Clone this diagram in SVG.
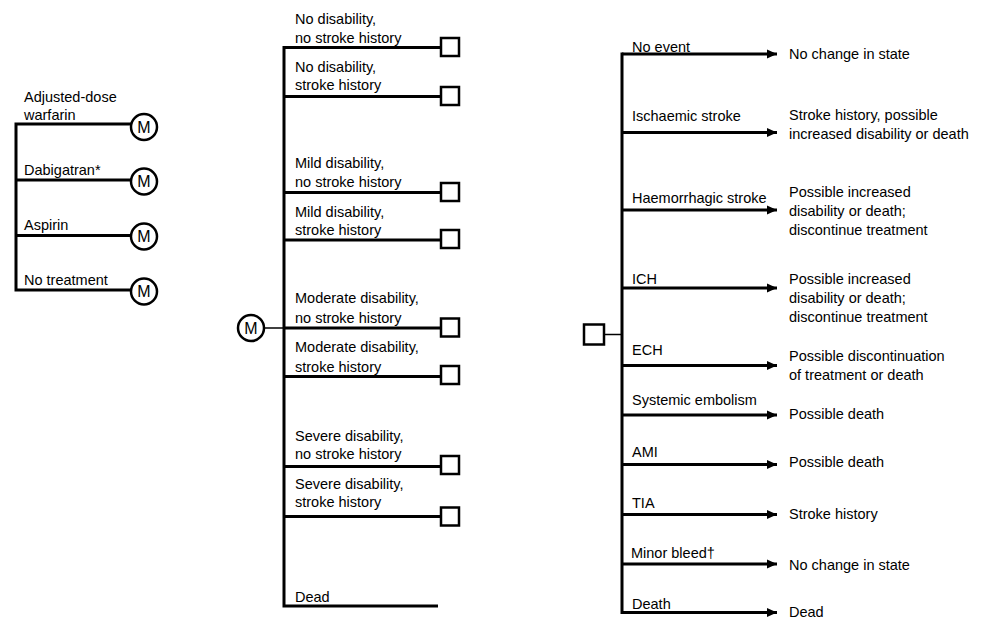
<svg xmlns="http://www.w3.org/2000/svg" width="982" height="619" viewBox="0 0 982 619">
<defs>
<style>
text{font-family:"Liberation Sans",Arial,sans-serif;font-size:14.5px;fill:#000}
.thick{stroke:#000;stroke-width:3;fill:none}
.thin{stroke:#000;stroke-width:1.5;fill:none}
.node{stroke:#000;stroke-width:2.5;fill:#fff}
.arr{stroke:#000;stroke-width:3;fill:none;marker-end:url(#ah)}
.m{font-size:16px;text-anchor:middle}
</style>
<marker id="ah" markerUnits="userSpaceOnUse" markerWidth="12" markerHeight="10" refX="10" refY="5" orient="auto">
<path d="M0,0.5 L10,5 L0,9.5 Z" fill="#000"/>
</marker>
</defs>
<rect width="982" height="619" fill="#fff"/>

<g id="connectors">
<!-- left tree -->
<path class="thick" d="M16,122.5 V291.5 M16,124 H131 M16,180 H131 M16,235.5 H131 M16,290 H131"/>
<!-- middle tree -->
<line class="thin" x1="265" y1="328" x2="284" y2="328"/>
<path class="thick" d="M284,46 V607.5 M284,47.5 H441 M284,96.5 H441 M284,192.5 H441 M284,240 H441 M284,328 H441 M284,376.5 H441 M284,466.5 H441 M284,516.5 H441 M284,606 H438"/>
<!-- right tree -->
<line class="thin" x1="604" y1="334.5" x2="622" y2="334.5"/>
<path class="thick" d="M622,52.5 V614"/>
<line class="arr" x1="622" y1="54" x2="777" y2="54"/>
<line class="arr" x1="622" y1="132.5" x2="777" y2="132.5"/>
<line class="arr" x1="622" y1="210" x2="777" y2="210"/>
<line class="arr" x1="622" y1="288" x2="777" y2="288"/>
<line class="arr" x1="622" y1="365.5" x2="777" y2="365.5"/>
<line class="arr" x1="622" y1="415" x2="777" y2="415"/>
<line class="arr" x1="622" y1="464.5" x2="777" y2="464.5"/>
<line class="arr" x1="622" y1="514.5" x2="777" y2="514.5"/>
<line class="arr" x1="622" y1="564" x2="777" y2="564"/>
<line class="arr" x1="622" y1="612.5" x2="777" y2="612.5"/>
</g>

<!-- left tree nodes -->
<g id="opt-warfarin">
<text x="24" y="102">Adjusted-dose</text>
<text x="24" y="120">warfarin</text>
<circle class="node" cx="144" cy="127" r="13"/><text class="m" x="144" y="132.5">M</text>
</g>
<g id="opt-dabigatran">
<text x="24" y="175">Dabigatran*</text>
<circle class="node" cx="144" cy="181.5" r="13"/><text class="m" x="144" y="187">M</text>
</g>
<g id="opt-aspirin">
<text x="24" y="230">Aspirin</text>
<circle class="node" cx="144" cy="236.5" r="13"/><text class="m" x="144" y="242">M</text>
</g>
<g id="opt-none">
<text x="24" y="285">No treatment</text>
<circle class="node" cx="144" cy="291.5" r="13"/><text class="m" x="144" y="297">M</text>
</g>

<!-- middle tree -->
<g id="markov-node">
<circle class="node" cx="251" cy="328" r="13"/><text class="m" x="251" y="333.5">M</text>
</g>
<g id="s1"><text x="295" y="24">No disability,</text><text x="295" y="43">no stroke history</text><rect class="node" x="441" y="38" width="18" height="18"/></g>
<g id="s2"><text x="295" y="72">No disability,</text><text x="295" y="90">stroke history</text><rect class="node" x="441" y="87" width="18" height="18"/></g>
<g id="s3"><text x="295" y="168">Mild disability,</text><text x="295" y="187">no stroke history</text><rect class="node" x="441" y="183" width="18" height="18"/></g>
<g id="s4"><text x="295" y="217">Mild disability,</text><text x="295" y="235">stroke history</text><rect class="node" x="441" y="230" width="18" height="18"/></g>
<g id="s5"><text x="295" y="303">Moderate disability,</text><text x="295" y="322.5">no stroke history</text><rect class="node" x="441" y="318.5" width="18" height="18"/></g>
<g id="s6"><text x="295" y="352">Moderate disability,</text><text x="295" y="371.5">stroke history</text><rect class="node" x="441" y="366" width="18" height="18"/></g>
<g id="s7"><text x="295" y="441">Severe disability,</text><text x="295" y="459">no stroke history</text><rect class="node" x="441" y="456" width="18" height="18"/></g>
<g id="s8"><text x="295" y="488.5">Severe disability,</text><text x="295" y="507">stroke history</text><rect class="node" x="441" y="507.5" width="18" height="18"/></g>
<g id="s9"><text x="295" y="602">Dead</text></g>

<!-- right tree -->
<g id="decision-node"><rect class="node" x="584" y="324.5" width="20" height="20"/></g>
<g id="e1"><text x="632" y="52">No event</text><text x="789" y="59">No change in state</text></g>
<g id="e2"><text x="632" y="121">Ischaemic stroke</text><text x="789" y="120">Stroke history, possible</text><text x="789" y="139">increased disability or death</text></g>
<g id="e3"><text x="632" y="203">Haemorrhagic stroke</text><text x="789" y="197">Possible increased</text><text x="789" y="216">disability or death;</text><text x="789" y="235">discontinue treatment</text></g>
<g id="e4"><text x="632" y="283.5">ICH</text><text x="789" y="283.5">Possible increased</text><text x="789" y="302.5">disability or death;</text><text x="789" y="321.5">discontinue treatment</text></g>
<g id="e5"><text x="632" y="355">ECH</text><text x="789" y="360.5">Possible discontinuation</text><text x="789" y="379.5">of treatment or death</text></g>
<g id="e6"><text x="632" y="405">Systemic embolism</text><text x="789" y="418.5">Possible death</text></g>
<g id="e7"><text x="632" y="457">AMI</text><text x="789" y="467">Possible death</text></g>
<g id="e8"><text x="632" y="507.5">TIA</text><text x="789" y="518.5">Stroke history</text></g>
<g id="e9"><text x="631" y="558">Minor bleed†</text><text x="789" y="569.5">No change in state</text></g>
<g id="e10"><text x="632" y="609">Death</text><text x="789" y="617">Dead</text></g>
</svg>
